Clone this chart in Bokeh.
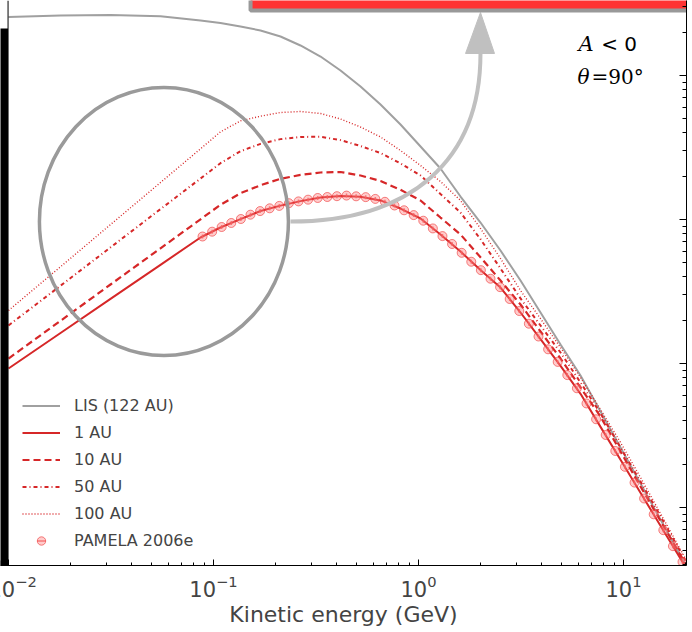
import math
from bokeh.plotting import figure
from bokeh.models import (LogAxis, LogTicker, Legend, LegendItem, Label, Span, Range1d,
                          BoxAnnotation)
from bokeh.embed import file_html
from bokeh.resources import INLINE

# ---------------- data ----------------
energy_model = [0.0100, 0.01794, 0.03145, 0.05513, 0.08643, 0.1081, 0.1354, 0.1696,
                0.2122, 0.2657, 0.3327, 0.4165, 0.5214, 0.6527, 0.8170, 1.023, 1.280,
                1.603, 2.006, 2.512, 3.145, 3.937, 4.929, 6.170, 7.724, 9.670, 12.10,
                15.15, 20.29]
lis_122au = [2548, 2611, 2631, 2577, 2409, 2315, 2189, 2054, 1866, 1616, 1355, 1083,
             838.6, 628.9, 456.6, 321.2, 226.1, 144.4, 95.3, 60.9, 37.7, 22.6, 13.55,
             8.25, 4.64, 2.61, 1.468, 0.825, 0.389]
flux_1au = [9.23, 16.28, 28.09, 48.46, 74.99, 87.99, 100.5, 114.6, 124.9, 134.2, 142.2,
            145.4, 144.0, 135.7, 119.2, 101.6, 78.7, 59.95, 44.67, 33.71, 22.6, 14.75,
            9.64, 6.16, 3.63, 2.145, 1.267, 0.747, 0.377]
flux_10au = [10.83, 19.80, 35.37, 63.1, 100.3, 126.5, 152.2, 173.0, 191.7, 204.0, 212.1,
             213.8, 202.1, 185.1, 160.8, 135.5, 103.2, 78.7, 54.7, 37.7, 25.7, 16.68,
             10.83, 6.81, 4.28, 2.448, 1.399, 0.808, 0.396]
flux_50au = [18.36, 34.70, 64.0, 118.1, 192.6, 246.0, 298.1, 335.0, 361.6, 374.6, 375.2,
             355.9, 323.9, 289.6, 245.2, 202.1, 150.3, 111.8, 73.0, 45.7, 28.3, 18.36,
             11.92, 7.38, 4.50, 2.61, 1.516, 0.870, 0.415]
flux_100au = [23.34, 47.0, 92.2, 180.7, 309.7, 405.9, 483.8, 521.8, 553.6, 562.3, 544.7,
              498.8, 438.9, 374.0, 301.5, 237.1, 183.6, 135.5, 86.6, 53.6, 32.1, 20.5,
              12.9, 7.99, 4.79, 2.83, 1.616, 0.909, 0.428]

pamela_e = [0.0884, 0.0985, 0.1096, 0.1221, 0.1360, 0.1515, 0.1688, 0.1880, 0.2094, 0.2332,
            0.2598, 0.2893, 0.3223, 0.3590, 0.3999, 0.4454, 0.4962, 0.5526, 0.6156, 0.6857,
            0.7637, 0.8506, 0.9474, 1.055, 1.175, 1.309, 1.458, 1.624, 1.809, 2.015,
            2.245, 2.500, 2.785, 3.102, 3.455, 3.849, 4.287, 4.775, 5.319, 5.925,
            6.599, 7.351, 8.188, 9.120, 10.16, 11.32, 12.60, 14.04, 15.64, 17.42, 19.40]
pamela_f = [76.2, 82.3, 88.7, 94.6, 100.8, 108.0, 114.4, 119.6, 124.3, 129.8,
            133.6, 137.3, 141.1, 143.3, 145.2, 146.6, 144.9, 143.0, 139.0, 132.7,
            125.1, 115.9, 107.3, 98.1, 86.7, 76.7, 67.6, 58.7, 50.9, 44.5,
            38.8, 33.9, 28.05, 23.15, 18.90, 15.40, 12.55, 10.26, 8.31, 6.73,
            5.28, 4.10, 3.19, 2.47, 1.917, 1.489, 1.155, 0.897, 0.696, 0.539, 0.419]

series_labels = ["LIS (122 AU)", "1 AU", "10 AU", "50 AU", "100 AU", "PAMELA 2006e"]
x_label = "Kinetic energy (GeV)"

# annotation anchors (data coordinates)
x_start, x_end = 0.009141, 20.29
y_start, y_end = 0.3956, 3318
ellipse_center = (0.0573, 96.8)
arrow_path = [(0.2375, 96.85), (0.9141, 96.85), (2.006, 256.9), (2.006, 1422.0)]
arrow_head = [(2.006, 2738.0), (1.696, 1422.0), (2.348, 1422.0)]
inset_box = (0.1516, 1000.0, 2827.0, 1.0e6)
spine_x = 0.00995          # left spine of the cropped original panel
strip_top = 2121.0         # top of the black strip along the left edge

RED = "#d62728"
GREY = "#a0a0a0"

# The canvas starts 12px left of the window so the 10^-2 tick label is cropped
# like in the reference; the frame itself begins at the window's left edge.
p = figure(width=704, height=632, x_axis_type="log", y_axis_type="log",
           x_range=Range1d(x_start, x_end), y_range=Range1d(y_start, y_end),
           output_backend="svg", toolbar_location=None,
           min_border_left=12, min_border_right=6, min_border_top=0,
           min_border_bottom=67, title=None)
p.styles = {"margin-left": "-12px"}
p.grid.visible = False
p.outline_line_color = None
p.background_fill_color = "white"
p.border_fill_color = "white"

# black strip + spine at the far left
p.quad(left=[0.005], right=[spine_x], bottom=[0.1], top=[strip_top],
       fill_color="black", line_color=None)
p.add_layout(Span(location=spine_x, dimension="height", line_color="black", line_width=1))

# curves
r_lis = p.line(energy_model, lis_122au, line_color=GREY, line_width=2)
r_1 = p.line(energy_model, flux_1au, line_color=RED, line_width=2)
r_10 = p.line(energy_model, flux_10au, line_color=RED, line_width=2.2, line_dash="7 4")
r_50 = p.line(energy_model, flux_50au, line_color=RED, line_width=2, line_dash="4 3 1 3")
r_100 = p.line(energy_model, flux_100au, line_color=RED, line_width=1.4, line_dash="1 2")
r_err = p.scatter(pamela_e, pamela_f, marker="dash", angle=math.pi / 2, size=4,
                  line_color="#f05050", line_alpha=0.8, line_width=1.5)
r_pts = p.scatter(pamela_e, pamela_f, marker="circle", size=9, fill_color="#ff8080",
                  fill_alpha=0.4, line_color="#ee3333", line_alpha=0.6, line_width=1)

# annotations: circle, arrow, inset box
p.ellipse(x=[ellipse_center[0]], y=[ellipse_center[1]], width=249, height=268,
          width_units="screen", height_units="screen", fill_alpha=0,
          line_color="#9a9a9a", line_width=3.5)
p.bezier(x0=[arrow_path[0][0]], y0=[arrow_path[0][1]],
         cx0=[arrow_path[1][0]], cy0=[arrow_path[1][1]],
         cx1=[arrow_path[2][0]], cy1=[arrow_path[2][1]],
         x1=[arrow_path[3][0]], y1=[arrow_path[3][1]],
         line_color="#c0c0c0", line_width=4)
p.patch([a[0] for a in arrow_head], [a[1] for a in arrow_head],
        fill_color="#c0c0c0", line_color="#c0c0c0", line_width=1)
p.quad(left=[inset_box[0]], right=[inset_box[1]], bottom=[inset_box[2]], top=[inset_box[3]],
       fill_color="#ff3333", line_color="#999999", line_width=4)

# texts
p.add_layout(Label(x=6.03, y=1668, text="A", text_font="DejaVu Serif",
                   text_font_style="italic", text_font_size="21px",
                   text_baseline="alphabetic", text_color="black"))
p.add_layout(Label(x=7.78, y=1668, text="< 0", text_font="DejaVu Sans",
                   text_font_size="20px", text_baseline="alphabetic", text_color="black"))
p.add_layout(Label(x=5.965, y=984, text="θ", text_font="DejaVu Serif",
                   text_font_style="italic", text_font_size="20px",
                   text_baseline="alphabetic", text_color="black"))
p.add_layout(Label(x=6.98, y=984, text="=90°", text_font="DejaVu Serif",
                   text_font_size="20px", text_baseline="alphabetic", text_color="black"))

# continuation of the black strip below the frame (canvas pixels)
p.add_layout(BoxAnnotation(left=12, right=19, top=560, bottom=640,
                           left_units="canvas", right_units="canvas",
                           top_units="canvas", bottom_units="canvas",
                           fill_color="black", fill_alpha=1, line_alpha=0, level="overlay"))

# axes
p.yaxis.visible = False
xa = p.xaxis[0]
xa.ticker = LogTicker(num_minor_ticks=10)
xa.major_tick_in = 6
xa.major_tick_out = 0
xa.minor_tick_in = 3
xa.minor_tick_out = 0
xa.axis_line_color = "black"
xa.major_label_text_font = "DejaVu Sans"
xa.major_label_text_font_size = "21px"
xa.major_label_standoff = 9
xa.axis_label = x_label
xa.axis_label_text_font = "DejaVu Sans"
xa.axis_label_text_font_size = "22px"
xa.axis_label_text_font_style = "normal"
xa.axis_label_standoff = 2

right = LogAxis(ticker=LogTicker(num_minor_ticks=10), major_tick_in=7, major_tick_out=0,
                minor_tick_in=4, minor_tick_out=0, major_label_text_font_size="1px",
                major_label_text_alpha=0, major_label_standoff=0)
p.add_layout(right, "right")

legend = Legend(items=[
    LegendItem(label=series_labels[0], renderers=[r_lis]),
    LegendItem(label=series_labels[1], renderers=[r_1]),
    LegendItem(label=series_labels[2], renderers=[r_10]),
    LegendItem(label=series_labels[3], renderers=[r_50]),
    LegendItem(label=series_labels[4], renderers=[r_100]),
    LegendItem(label=series_labels[5], renderers=[r_err, r_pts]),
], location=(22, 14), padding=0, margin=0, spacing=6, label_height=21,
    glyph_height=21, glyph_width=38, label_standoff=14,
    label_text_font="DejaVu Sans", label_text_font_size="16px",
    border_line_alpha=0, background_fill_alpha=0)
p.add_layout(legend)

open("out.html", "w").write(file_html(p, INLINE))
